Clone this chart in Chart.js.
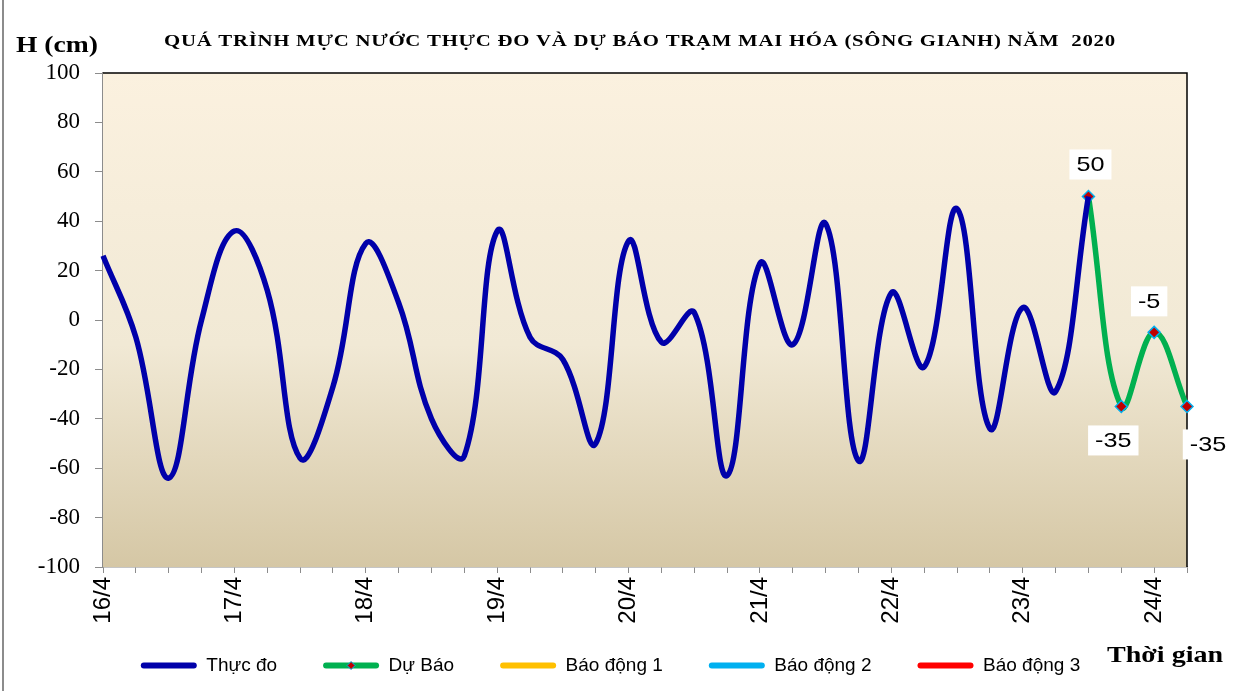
<!DOCTYPE html>
<html>
<head>
<meta charset="utf-8">
<script src="https://cdn.jsdelivr.net/npm/chart.js@4"></script>
<style>
  html, body { margin: 0; padding: 0; background: #fff; }
  #wrap { width: 1237px; height: 691px; }
</style>
</head>
<body>
<div id="wrap"><canvas id="mucNuoc" width="1237" height="691"></canvas></div>
<script>
// 6-hour steps from 16/4 00h to 24/4 06h
const dayLabels = ['16/4', '17/4', '18/4', '19/4', '20/4', '21/4', '22/4', '23/4', '24/4'];
const hourSteps = ['00', '06', '12', '18'];

// observed water level (cm), every 6 h
const thucDo = [26, -7, -64, 0, 36, 12, -56, -27, 31, 7, -40, -55, 36, -7, -16, -50,
  32, -9, 3, -63, 23, -10, 39, -57, 11, -19, 45, -44, 5, -29, 50];
// forecast, starting at the last observed value
const duBao = [50, -35, -5, -35];

const yTicks = [100, 80, 60, 40, 20, 0, -20, -40, -60, -80, -100];

// build category labels
const labels = [];
dayLabels.forEach(d => hourSteps.forEach(h => labels.push(d + ' ' + h + 'h')));
labels.length = thucDo.length + duBao.length - 1;

const observedData = labels.map((l, i) => i < thucDo.length ? thucDo[i] : null);
const forecastStart = thucDo.length - 1;
const forecastData = labels.map((l, i) => i >= forecastStart ? duBao[i - forecastStart] : null);

const legendShift = { x: 17, y: -17 };

// draw text squeezed/stretched horizontally like the original picture
function stretchText(ctx, text, x, y, sx) {
    ctx.save();
    ctx.translate(x, y);
    ctx.scale(sx, 1);
    ctx.fillText(text, 0, 0);
    ctx.restore();
}

// background gradient + plot border, extra texts
const decor = {
    id: 'decor',
    afterLayout(chart) {
        const lg = chart.legend;
        lg.left += legendShift.x;
        lg.right += legendShift.x;
        lg.top += legendShift.y;
        lg.bottom += legendShift.y;
    },
    beforeDatasetsDraw(chart) {
        const { ctx, chartArea: a } = chart;
        ctx.save();
        const g = ctx.createLinearGradient(0, a.top, 0, a.bottom);
        g.addColorStop(0, '#FBF1DF');
        g.addColorStop(0.55, '#F1E9D5');
        g.addColorStop(1, '#D5C7A5');
        ctx.fillStyle = g;
        ctx.fillRect(a.left, a.top, a.right - a.left, a.bottom - a.top);
        ctx.strokeStyle = '#000';
        ctx.lineWidth = 1.5;
        ctx.beginPath();
        ctx.moveTo(a.left, a.top);
        ctx.lineTo(a.right, a.top);
        ctx.lineTo(a.right, a.bottom);
        ctx.stroke();
        ctx.restore();
    },
    afterDraw(chart) {
        const ctx = chart.ctx;
        ctx.save();
        // outer frame line
        ctx.strokeStyle = '#8C8C8C';
        ctx.lineWidth = 2;
        ctx.beginPath();
        ctx.moveTo(3, 0);
        ctx.lineTo(3, 691);
        ctx.stroke();

        // title
        const title = 'QUÁ TRÌNH MỰC NƯỚC THỰC ĐO VÀ DỰ BÁO TRẠM MAI HÓA (SÔNG GIANH) NĂM  2020';
        ctx.fillStyle = '#000';
        ctx.font = 'bold 16px "Liberation Serif", "Times New Roman", serif';
        ctx.textBaseline = 'middle';
        ctx.textAlign = 'left';
        const targetW = 952;
        const w0 = ctx.measureText(title).width;
        const sx = Math.min(targetW / w0, 1.3);
        ctx.letterSpacing = ((targetW / sx - w0) / title.length).toFixed(2) + 'px';
        stretchText(ctx, title, 164, 42, sx);
        ctx.letterSpacing = '0px';

        ctx.font = 'bold 23px "Liberation Serif", "Times New Roman", serif';
        stretchText(ctx, 'H (cm)', 16, 46, 1.2);
        stretchText(ctx, 'Thời gian', 1107, 656, 1.22);

        // data labels for forecast points
        const meta = chart.getDatasetMeta(1);
        const offs = [[2, -32], [-8, 34], [-5, -31], [21, 38]];
        ctx.font = '21px "Liberation Sans", Arial, sans-serif';
        ctx.textAlign = 'center';
        duBao.forEach((v, k) => {
            const p = meta.data[forecastStart + k];
            const cx = p.x + offs[k][0], cy = p.y + offs[k][1];
            const tw = ctx.measureText(String(v)).width * 1.2 + 14;
            ctx.fillStyle = '#fff';
            ctx.fillRect(cx - tw / 2, cy - 15, tw, 30);
            ctx.fillStyle = '#000';
            stretchText(ctx, String(v), cx, cy + 1, 1.2);
        });

        // marker on the forecast legend sample
        const hb = chart.legend.legendHitBoxes[1];
        if (hb) {
            const mx = hb.left + 28, my = hb.top + hb.height / 2;
            ctx.fillStyle = '#C00000';
            ctx.strokeStyle = '#00B0F0';
            ctx.lineWidth = 1;
            ctx.beginPath();
            ctx.moveTo(mx, my - 4);
            ctx.lineTo(mx + 4, my);
            ctx.lineTo(mx, my + 4);
            ctx.lineTo(mx - 4, my);
            ctx.closePath();
            ctx.fill();
            ctx.stroke();
        }
        ctx.restore();
    }
};

const ctx = document.getElementById('mucNuoc').getContext('2d');
const chart = new Chart(ctx, {
    type: 'line',
    data: {
        labels: labels,
        datasets: [{
            label: 'Thực đo',
            data: observedData,
            borderColor: '#0000AA',
            backgroundColor: '#0000AA',
            borderWidth: 5.5,
            pointRadius: 0,
            tension: 0.4,
            spanGaps: false
        }, {
            label: 'Dự Báo',
            data: forecastData,
            borderColor: '#00B050',
            backgroundColor: '#C00000',
            borderWidth: 5.5,
            pointStyle: 'rectRot',
            pointRadius: 6,
            pointBackgroundColor: '#C00000',
            pointBorderColor: '#00B0F0',
            pointBorderWidth: 1.5,
            tension: 0.4
        }, {
            label: 'Báo động 1',
            data: [],
            borderColor: '#FFC000',
            backgroundColor: '#FFC000'
        }, {
            label: 'Báo động 2',
            data: [],
            borderColor: '#00B0F0',
            backgroundColor: '#00B0F0'
        }, {
            label: 'Báo động 3',
            data: [],
            borderColor: '#FF0000',
            backgroundColor: '#FF0000'
        }]
    },
    options: {
        responsive: false,
        animation: false,
        layout: { padding: { top: 73, right: 50, bottom: -11, left: 0 } },
        plugins: {
            tooltip: { enabled: false },
            title: { display: false },
            legend: {
                position: 'bottom',
                labels: {
                    boxWidth: 56,
                    boxHeight: 6,
                    padding: 46,
                    color: '#000',
                    font: { family: '"Liberation Sans", Arial, sans-serif', size: 19 },
                    generateLabels: (chart) => chart.data.datasets.map((ds, i) => ({
                        text: ds.label,
                        fillStyle: ds.borderColor,
                        strokeStyle: ds.borderColor,
                        lineWidth: 0,
                        borderRadius: 3,
                        hidden: false,
                        datasetIndex: i
                    })),
                    useBorderRadius: true,
                    borderRadius: 3
                }
            }
        },
        scales: {
            x: {
                type: 'category',
                offset: false,
                afterFit: (scale) => { scale.height = 60; },
                grid: { drawOnChartArea: false, drawTicks: true, tickLength: 6, color: '#8C8C8C' },
                border: { display: true, color: '#8C8C8C', width: 1.5 },
                ticks: {
                    autoSkip: false,
                    maxRotation: 90,
                    minRotation: 90,
                    padding: 4,
                    color: '#000',
                    font: { family: '"Liberation Sans", Arial, sans-serif', size: 24 },
                    callback: function (val, index) {
                        return index % 4 === 0 ? dayLabels[index / 4] : '';
                    }
                }
            },
            y: {
                min: -100,
                max: 100,
                afterFit: (scale) => { scale.width = 103; },
                afterBuildTicks: (scale) => { scale.ticks = yTicks.map(v => ({ value: v })); },
                grid: { drawOnChartArea: false, drawTicks: true, tickLength: 8, color: '#8C8C8C' },
                border: { display: true, color: '#8C8C8C', width: 1.5 },
                ticks: {
                    padding: 15,
                    color: '#000',
                    font: { family: '"Liberation Serif", "Times New Roman", serif', size: 23 }
                }
            }
        }
    },
    plugins: [decor]
});
</script>
</body>
</html>
